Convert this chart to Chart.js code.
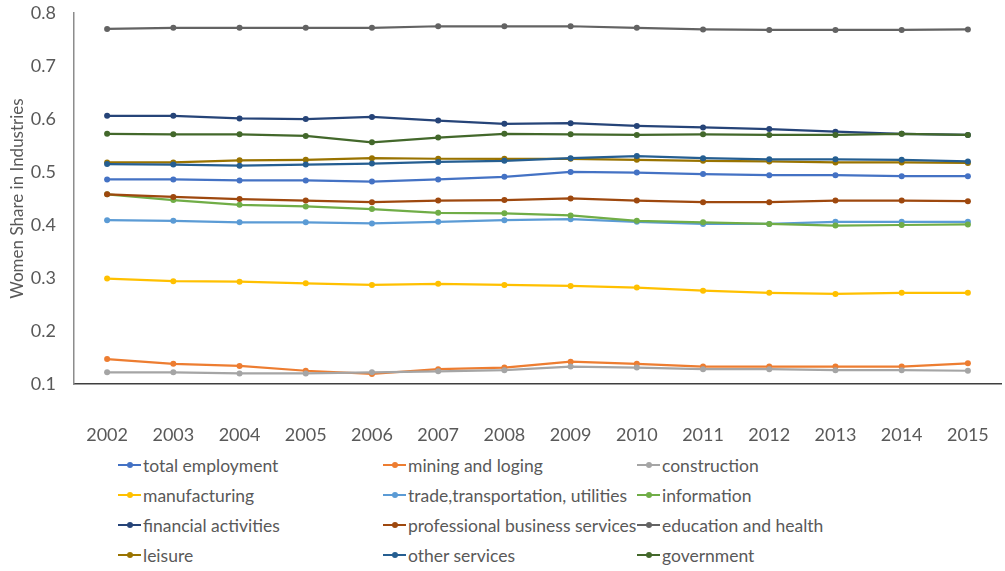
<!DOCTYPE html>
<html>
<head>
<meta charset="utf-8">
<title>Women Share in Industries</title>
<script src="https://cdn.jsdelivr.net/npm/chart.js@4.4.1/dist/chart.umd.min.js"></script>
<style>
  html, body { margin: 0; padding: 0; background: #fff; }
  #wrap { position: relative; width: 1005px; height: 571px; overflow: hidden; }
  #shareChart { position: absolute; left: 0; top: 0; }
  #legend {
    position: absolute; left: 118px; top: 450px;
    display: grid; grid-template-columns: 265px 254px 300px;
    grid-auto-rows: 30px;
    font-family: Lato, "Open Sans", sans-serif; font-size: 17.5px; color: #595959;
  }
  .item { display: flex; align-items: center; white-space: nowrap; }
  .mark { position: relative; width: 23px; height: 2px; margin-right: 2px; }
  .mark i { position: absolute; left: 9px; top: -2px; width: 6px; height: 6px; border-radius: 50%; }
</style>
</head>
<body>
<div id="wrap">
  <canvas id="shareChart" width="1005" height="450"></canvas>
  <div id="legend"></div>
</div>
<script>
const years = ["2002", "2003", "2004", "2005", "2006", "2007", "2008",
               "2009", "2010", "2011", "2012", "2013", "2014", "2015"];

const totalEmployment  = [0.486, 0.486, 0.484, 0.484, 0.482, 0.486, 0.491, 0.500, 0.499, 0.496, 0.494, 0.494, 0.492, 0.492];
const miningLoging     = [0.147, 0.138, 0.134, 0.125, 0.119, 0.128, 0.131, 0.142, 0.138, 0.133, 0.133, 0.133, 0.133, 0.139];
const construction     = [0.122, 0.122, 0.120, 0.120, 0.122, 0.124, 0.126, 0.133, 0.131, 0.128, 0.128, 0.126, 0.126, 0.125];
const manufacturing    = [0.299, 0.294, 0.293, 0.290, 0.287, 0.289, 0.287, 0.285, 0.282, 0.276, 0.272, 0.270, 0.272, 0.272];
const tradeTransport   = [0.409, 0.408, 0.405, 0.405, 0.403, 0.406, 0.409, 0.411, 0.406, 0.402, 0.402, 0.406, 0.406, 0.406];
const information      = [0.458, 0.447, 0.438, 0.435, 0.430, 0.423, 0.422, 0.418, 0.408, 0.405, 0.402, 0.399, 0.400, 0.401];
const financial        = [0.606, 0.606, 0.601, 0.600, 0.604, 0.597, 0.591, 0.592, 0.587, 0.584, 0.581, 0.576, 0.572, 0.570];
const professional     = [0.458, 0.453, 0.449, 0.446, 0.443, 0.446, 0.447, 0.450, 0.446, 0.443, 0.443, 0.446, 0.446, 0.445];
const educationHealth  = [0.770, 0.772, 0.772, 0.772, 0.772, 0.775, 0.775, 0.775, 0.772, 0.769, 0.768, 0.768, 0.768, 0.769];
const leisure          = [0.518, 0.518, 0.522, 0.523, 0.526, 0.525, 0.525, 0.525, 0.523, 0.521, 0.520, 0.518, 0.518, 0.517];
const otherServices    = [0.515, 0.514, 0.512, 0.514, 0.516, 0.519, 0.521, 0.526, 0.530, 0.526, 0.524, 0.524, 0.523, 0.520];
const government       = [0.572, 0.571, 0.571, 0.568, 0.556, 0.565, 0.572, 0.571, 0.570, 0.571, 0.570, 0.570, 0.572, 0.570];

const yTicks = [0.1, 0.2, 0.3, 0.4, 0.5, 0.6, 0.7, 0.8];

const series = [
  ["total employment", totalEmployment, "#4472C4"],
  ["mining and loging", miningLoging, "#ED7D31"],
  ["construction", construction, "#A5A5A5"],
  ["manufacturing", manufacturing, "#FFC000"],
  ["trade,transportation, utilities", tradeTransport, "#5B9BD5"],
  ["information", information, "#70AD47"],
  ["financial activities", financial, "#264478"],
  ["professional business services", professional, "#9E480E"],
  ["education and health", educationHealth, "#636363"],
  ["leisure", leisure, "#997300"],
  ["other services", otherServices, "#255E91"],
  ["government", government, "#43682B"]
];

const textColor = "#595959";
const font = { family: "Lato, 'Open Sans', sans-serif", size: 18 };

const datasets = series.map(([label, data, color], i) => ({
  label: label,
  data: data,
  borderColor: color,
  backgroundColor: color,
  borderWidth: 2.25,
  pointRadius: 3,
  pointHoverRadius: 4,
  pointBorderWidth: 0,
  tension: 0,
  order: -i   // later series are drawn on top
}));

const chart = new Chart(document.getElementById("shareChart"), {
  type: "line",
  data: { labels: years, datasets: datasets },
  options: {
    responsive: false,
    animation: false,
    layout: { padding: { top: 13, right: 0, bottom: 0, left: 0 } },
    plugins: { legend: { display: false }, tooltip: { enabled: false } },
    scales: {
      x: {
        offset: true,
        grid: { display: false, drawTicks: false },
        border: { display: true, color: "#3f3f3f", width: 1.5 },
        ticks: { color: textColor, font: font, padding: 40, maxRotation: 0 },
        afterFit: (scale) => {
          scale.height = 66;
          scale.paddingLeft = 0;
          scale.paddingRight = 0;
        }
      },
      y: {
        min: 0.1,
        max: 0.8,
        afterBuildTicks: (scale) => { scale.ticks = yTicks.map((v) => ({ value: v })); },
        grid: { display: false, drawTicks: false },
        border: { display: true, color: "#8c8c8c", width: 1.5 },
        ticks: {
          color: textColor, font: font, padding: 18,
          callback: (v) => Number(v).toFixed(1)
        },
        title: {
          display: true, text: "Women Share in Industries",
          color: textColor, font: { family: font.family, size: 17 },
          padding: { top: 7, bottom: 0 }
        },
        afterFit: (scale) => {
          scale.width = 74;
          scale.paddingTop = 0;
          scale.paddingBottom = 0;
        }
      }
    }
  }
});

// legend laid out as a three-column grid below the plot
const legend = document.getElementById("legend");
chart.data.datasets.forEach((ds) => {
  const item = document.createElement("div");
  item.className = "item";
  item.innerHTML = `<span class="mark" style="background:${ds.borderColor}"><i style="background:${ds.borderColor}"></i></span>${ds.label}`;
  legend.appendChild(item);
});
</script>
</body>
</html>
